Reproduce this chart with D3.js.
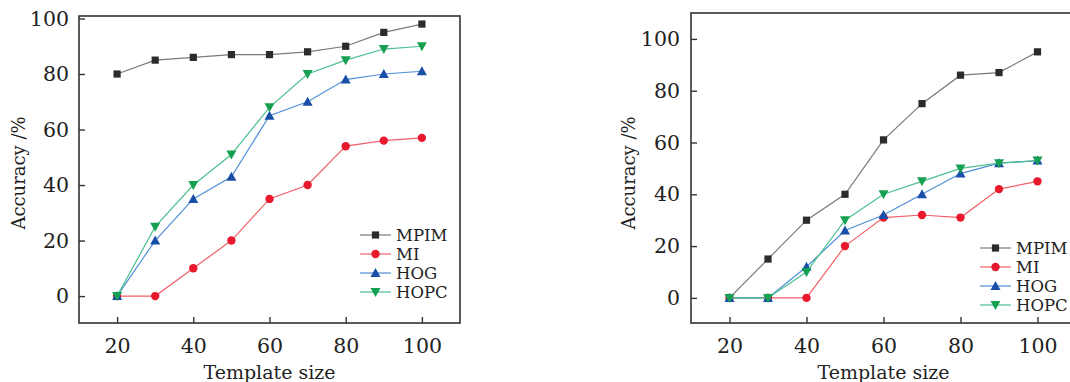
<!DOCTYPE html>
<html>
<head>
<meta charset="utf-8">
<script src="https://cdn.jsdelivr.net/npm/d3@7"></script>
<style>
  body { margin: 0; background: #fff; }
  svg { display: block; }
  text { font-family: "DejaVu Serif", "Liberation Serif", serif; fill: #222; }
</style>
</head>
<body>
<svg id="chart" width="1070" height="382"></svg>
<script>
// template sizes on the x axis
const sizes = [20, 30, 40, 50, 60, 70, 80, 90, 100];
const seriesNames = ["MPIM", "MI", "HOG", "HOPC"];

// left panel
const leftMPIM = [80, 85, 86, 87, 87, 88, 90, 95, 98];
const leftMI   = [0, 0, 10, 20, 35, 40, 54, 56, 57];
const leftHOG  = [0, 20, 35, 43, 65, 70, 78, 80, 81];
const leftHOPC = [0, 25, 40, 51, 68, 80, 85, 89, 90];

// right panel
const rightMPIM = [0, 15, 30, 40, 61, 75, 86, 87, 95];
const rightMI   = [0, 0, 0, 20, 31, 32, 31, 42, 45];
const rightHOG  = [0, 0, 12, 26, 32, 40, 48, 52, 53];
const rightHOPC = [0, 0, 10, 30, 40, 45, 50, 52, 53];

const xTicks = [20, 40, 60, 80, 100];
const yTicks = [0, 20, 40, 60, 80, 100];

const styles = {
  MPIM: {line: "#7a7a7a", mark: "#2b2b2b", shape: "square"},
  MI:   {line: "#f0606a", mark: "#e8192c", shape: "circle"},
  HOG:  {line: "#4f8fd8", mark: "#1a4fa8", shape: "up"},
  HOPC: {line: "#4cc08e", mark: "#16a052", shape: "down"}
};

const svg = d3.select("#chart");

function marker(g, shape, x, y, color) {
  if (shape === "square") {
    g.append("rect").attr("x", x - 3.6).attr("y", y - 3.6)
      .attr("width", 7.2).attr("height", 7.2).attr("fill", color);
  } else if (shape === "circle") {
    g.append("circle").attr("cx", x).attr("cy", y).attr("r", 4.2).attr("fill", color);
  } else if (shape === "up") {
    g.append("path").attr("d", `M${x},${y - 5} L${x + 5},${y + 4} L${x - 5},${y + 4} Z`).attr("fill", color);
  } else {
    g.append("path").attr("d", `M${x},${y + 5} L${x + 5},${y - 4} L${x - 5},${y - 4} Z`).attr("fill", color);
  }
}

function drawPanel(cfg) {
  const g = svg.append("g");
  const x = d3.scaleLinear().domain([10, 110]).range([cfg.left, cfg.right]);
  const y = d3.scaleLinear().domain(cfg.yDomain).range([cfg.bottom, cfg.top]);

  // axes with inward ticks
  const xAxis = g.append("g").attr("transform", `translate(0,${cfg.bottom})`)
    .call(d3.axisBottom(x).tickValues(xTicks).tickSizeInner(-6).tickSizeOuter(0).tickPadding(15));
  const yAxis = g.append("g").attr("transform", `translate(${cfg.left},0)`)
    .call(d3.axisLeft(y).tickValues(yTicks).tickSizeInner(-6).tickSizeOuter(0).tickPadding(cfg.yPad));
  [xAxis, yAxis].forEach(a => {
    a.select(".domain").remove();
    a.selectAll("line").attr("stroke", "#333").attr("stroke-width", 1.4);
    a.selectAll("text").style("font-family", "DejaVu Serif, serif").style("font-size", "20.5px").attr("fill", "#222");
  });
  xAxis.selectAll("text").attr("dy", "0.71em");

  // frame
  g.append("rect").attr("x", cfg.left).attr("y", cfg.top)
    .attr("width", cfg.right - cfg.left).attr("height", cfg.bottom - cfg.top)
    .attr("fill", "none").attr("stroke", "#333").attr("stroke-width", 1.6);

  const line = d3.line().x((d, i) => x(sizes[i])).y(d => y(d));
  cfg.series.forEach((vals, k) => {
    const st = styles[seriesNames[k]];
    g.append("path").datum(vals).attr("d", line)
      .attr("fill", "none").attr("stroke", st.line).attr("stroke-width", 1.2);
    vals.forEach((v, i) => marker(g, st.shape, x(sizes[i]), y(v), st.mark));
  });

  // axis titles
  g.append("text").attr("x", x(60)).attr("y", 379).attr("text-anchor", "middle")
    .style("font-size", "19px").text("Template size");
  g.append("text").attr("transform", `translate(${cfg.titleX},173) rotate(-90)`)
    .attr("text-anchor", "middle").attr("dy", "0.35em")
    .style("font-size", "18px").text("Accuracy /%");

  // legend
  seriesNames.forEach((name, k) => {
    const st = styles[name];
    const ly = cfg.legY + k * 19;
    g.append("line").attr("x1", cfg.legX).attr("x2", cfg.legX + 31)
      .attr("y1", ly).attr("y2", ly).attr("stroke", st.line).attr("stroke-width", 1.2);
    marker(g, st.shape, cfg.legX + 15.5, ly, st.mark);
    g.append("text").attr("x", cfg.legX + 36).attr("y", ly).attr("dy", "0.35em")
      .style("font-size", "16.5px").text(name);
  });
}

drawPanel({
  left: 79, right: 460, top: 16, bottom: 323, yDomain: [-9.7, 100.9], yPad: 10,
  titleX: 19, legX: 360, legY: 235,
  series: [leftMPIM, leftMI, leftHOG, leftHOPC]
});

drawPanel({
  left: 691, right: 1076, top: 13, bottom: 323, yDomain: [-9.7, 110], yPad: 11,
  titleX: 629, legX: 980, legY: 248,
  series: [rightMPIM, rightMI, rightHOG, rightHOPC]
});
</script>
</body>
</html>
